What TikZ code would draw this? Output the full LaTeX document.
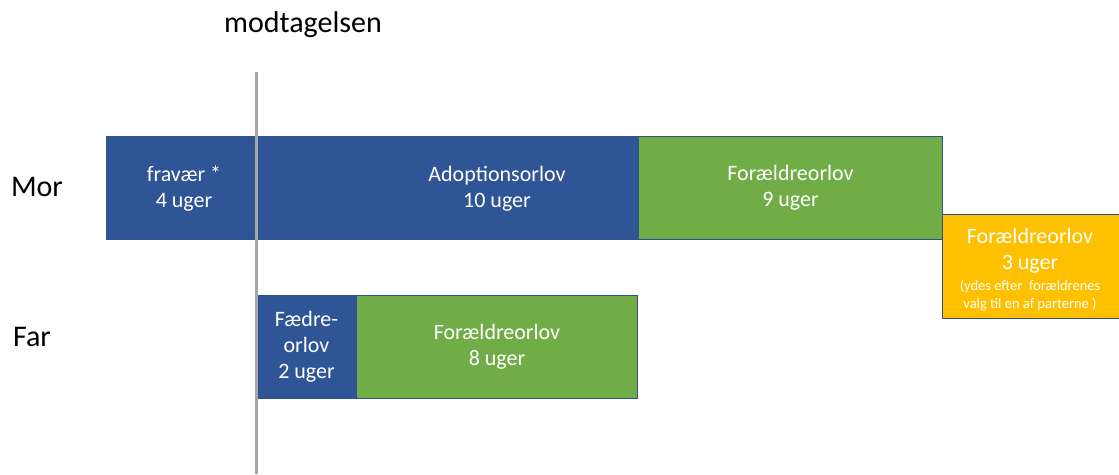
\documentclass[tikz,border=0pt]{standalone}
\usepackage{fontspec}
\setmainfont{Carlito}
\definecolor{barblue}{HTML}{2F5597}
\definecolor{bargreen}{HTML}{70AD47}
\definecolor{baryellow}{HTML}{FFC000}
\definecolor{barline}{HTML}{2F528F}
\definecolor{axisgray}{HTML}{A6A6A6}
\begin{document}
\begin{tikzpicture}[x=1pt,y=-1pt,
  bar/.style={draw=barline, line width=1pt, anchor=north west, inner sep=0pt,
    text=white, align=center, font=\fontsize{22}{26}\selectfont},
  bartext/.style={text=white, align=center, font=\fontsize{22}{26}\selectfont, inner sep=0pt},
  rowlabel/.style={font=\fontsize{30}{34}\selectfont, inner sep=0pt}]
\useasboundingbox (0,0) rectangle (1119,474);
% Mor row
\node[bar, fill=barblue, minimum width=532pt, minimum height=103pt] (morbar) at (106,136) {};
\node[bartext] (fravaer) at (184,189) {fravær *\\4 uger};
\node[bartext] (adopt) at (497,189) {Adoptionsorlov\\10 uger};
\node[bar, fill=bargreen, minimum width=304pt, minimum height=103pt] (morfor) at (638,136) {Forældreorlov\\9 uger};
\node[bar, fill=baryellow, minimum width=180pt, minimum height=104pt] (shared) at (942,214) {};
\node[bartext, anchor=center] (sharedtxt) at (1030,271)
  {\begin{tabular}{@{}c@{}}Forældreorlov\\3 uger\\[-5pt]{\fontsize{14.5}{18}\selectfont (ydes efter\ \ forældrenes}\\[-8pt]{\fontsize{14.5}{18}\selectfont valg til en af parterne )}\end{tabular}};
% Far row
\node[bar, fill=barblue, minimum width=100pt, minimum height=103pt] (faedre) at (256,295) {Fædre-\\orlov\\2 uger};
\node[bar, fill=bargreen, minimum width=281pt, minimum height=103pt] (farfor) at (356,295) {Forældreorlov\\8 uger};
% labels
\node[rowlabel] (mor) at (37,187) {Mor};
\node[rowlabel] (far) at (32,337) {Far};
\node[font=\fontsize{30}{34}\selectfont, inner sep=0pt] (modt) at (303,25) {modtagelsen};
% timeline
\coordinate (ltop) at (256,72);
\coordinate (lbot) at (256,474);
\draw[axisgray, line width=3pt] (ltop) -- (lbot);
\end{tikzpicture}
\end{document}
